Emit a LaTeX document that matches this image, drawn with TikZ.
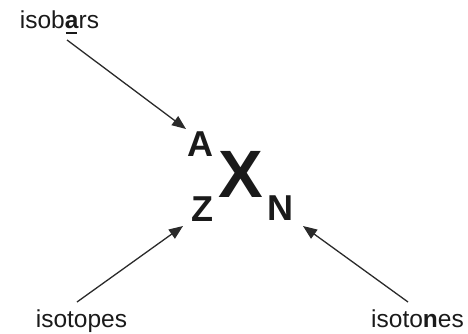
\documentclass[tikz,border=0pt]{standalone}
\usepackage{fontspec}
\setmainfont{Liberation Sans}
\usetikzlibrary{arrows.meta}
\definecolor{ink}{HTML}{1A1A1A}
\definecolor{arrowc}{HTML}{2A2A2A}
\tikzset{
  label/.style={inner sep=0pt, anchor=base, text=ink, font=\fontsize{24.5}{28}\selectfont},
  small/.style={inner sep=0pt, anchor=base, text=ink, font=\fontsize{36}{40}\selectfont\bfseries},
  big/.style={inner sep=0pt, anchor=base, text=ink, font=\fontsize{67}{70}\selectfont\bfseries},
  arr/.style={draw=arrowc, line width=1.3pt, -{Triangle[length=14pt,width=11pt]}}
}
\begin{document}
\begin{tikzpicture}[x=1pt,y=1pt]
\useasboundingbox (0,0) rectangle (468,333);
% labels
\node[label] (isobars) at (59.5,305) {isob\rlap{\hspace*{1pt}\rule[-5.5pt]{11pt}{1.6pt}}\textbf{a}rs};
\node[label] (isotopes) at (81.5,5.5) {isotopes};
\node[label] (isotones) at (417.5,5.5) {isoto\textbf{n}es};
% symbol
\node[small] (A) at (200.5,177) {A};
\node[small] (Z) at (202,112) {Z};
\node[big] (X) at (241,136) {X};
\node[small] (N) at (280.5,113) {N};
% arrow endpoints
\coordinate (s1) at (67,293);
\coordinate (t1) at (186,204);
\coordinate (s2) at (77,31);
\coordinate (t2) at (183,107);
\coordinate (s3) at (408,31);
\coordinate (t3) at (303,107);
\draw[arr] (s1) -- (t1);
\draw[arr] (s2) -- (t2);
\draw[arr] (s3) -- (t3);
\end{tikzpicture}
\end{document}
